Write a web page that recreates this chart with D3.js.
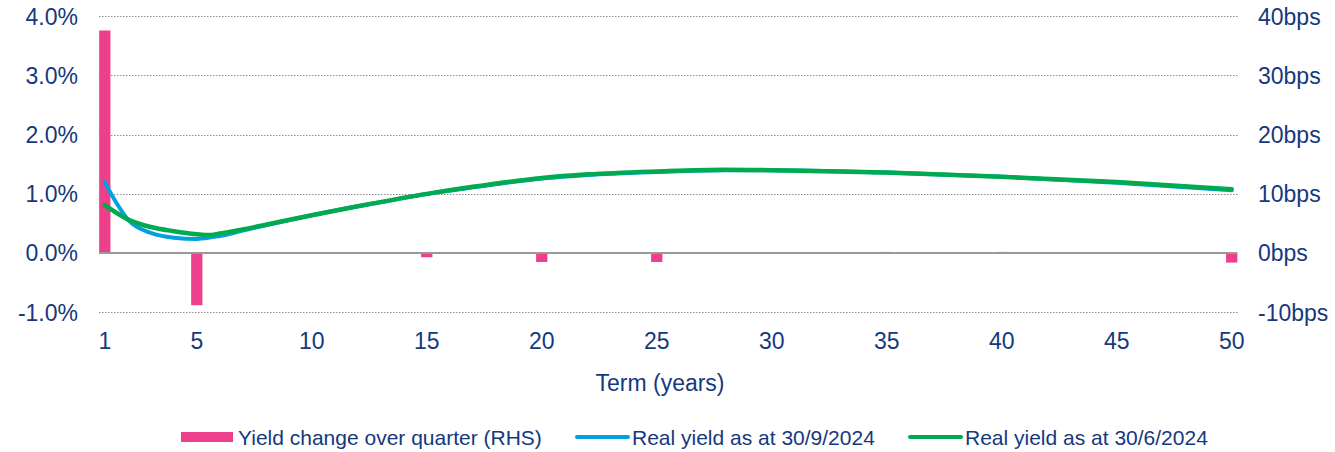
<!doctype html>
<html lang="en">
    <head>
        <meta charset="UTF-8">
        <title>Real yield curve</title>
        <style>
            body { margin: 0; background: #fff; }
            text { font-family: "Liberation Sans", Arial, sans-serif; fill: #15387e; }
        </style>
    </head>
    <body>
        <script src="https://d3js.org/d3.v7.min.js"></script>
        <script>
            // bars: yield change over quarter, in bps (RHS)
            var barTerms = [1, 5, 10, 15, 20, 25, 30, 35, 40, 45, 50];
            var barChange = [37.6, -8.8, 0, -0.7, -1.5, -1.5, 0, 0.2, 0.2, -0.1, -1.6];

            // real yield curves, in %
            var sepTerms = [1, 1.5, 2, 3, 4, 5, 6, 7, 8, 10, 12, 15, 17, 20, 22, 25, 28, 30, 35, 40, 45, 50];
            var sepYield = [1.20, 0.85, 0.57, 0.34, 0.26, 0.24, 0.29, 0.38, 0.47, 0.64, 0.79, 1.00, 1.11, 1.26, 1.32, 1.37, 1.40, 1.40, 1.36, 1.29, 1.19, 1.06];
            var junTerms = [1, 2, 3, 4, 5, 5.5, 6, 7, 8, 10, 12, 15, 17, 20, 22, 25, 28, 30, 35, 40, 45, 50];
            var junYield = [0.81, 0.57, 0.44, 0.37, 0.32, 0.305, 0.33, 0.40, 0.48, 0.64, 0.79, 1.00, 1.12, 1.27, 1.33, 1.38, 1.41, 1.40, 1.36, 1.29, 1.20, 1.08];

            var xTicks = [1, 5, 10, 15, 20, 25, 30, 35, 40, 45, 50];
            var leftTicks = [-1, 0, 1, 2, 3, 4];
            var rightTicks = [-10, 0, 10, 20, 30, 40];

            var legendItems = [
                { label: "Yield change over quarter (RHS)", color: "#ee3f8c", type: "bar" },
                { label: "Real yield as at 30/9/2024", color: "#00a1e2", type: "line" },
                { label: "Real yield as at 30/6/2024", color: "#00aa4f", type: "line" }
            ];

            var width = 1335, height = 452;

            var x = d3.scaleLinear().domain([1, 50]).range([104.8, 1231.7]);
            var yL = d3.scaleLinear().domain([-1, 4]).range([312.3, 16.3]);
            var yR = d3.scaleLinear().domain([-10, 40]).range([312.3, 16.3]);

            var gridLeft = x(1) - 5.8, gridRight = x(50) + 5.8;
            var barW = 11.3;

            var svg = d3.select("body").append("svg")
                .attr("width", width)
                .attr("height", height);

            // gridlines
            svg.append("g").selectAll("line")
                .data(leftTicks.filter(function(d) { return d !== 0; }))
                .enter()
                .append("line")
                    .attr("x1", gridLeft)
                    .attr("x2", gridRight)
                    .attr("y1", function(d) { return Math.round(yL(d)) + 0.5; })
                    .attr("y2", function(d) { return Math.round(yL(d)) + 0.5; })
                    .attr("stroke", "#8c8c8c")
                    .attr("stroke-width", 1)
                    .attr("stroke-dasharray", "1.5,1.5");

            // bars
            svg.append("g").selectAll("rect")
                .data(barTerms.map(function(t, i) { return { t: t, v: barChange[i] }; }))
                .enter()
                .append("rect")
                    .attr("x", function(d) { return x(d.t) - barW / 2; })
                    .attr("width", barW)
                    .attr("y", function(d) { return Math.min(yR(d.v), yR(0)); })
                    .attr("height", function(d) { return Math.abs(yR(d.v) - yR(0)); })
                    .attr("fill", "#ee3f8c");

            // zero line
            svg.append("line")
                .attr("x1", gridLeft)
                .attr("x2", gridRight)
                .attr("y1", yL(0))
                .attr("y2", yL(0))
                .attr("stroke", "#999")
                .attr("stroke-width", 2);

            var line = d3.line()
                .x(function(d) { return x(d[0]); })
                .y(function(d) { return yL(d[1]); })
                .curve(d3.curveMonotoneX);

            svg.append("path")
                .datum(sepTerms.map(function(t, i) { return [t, sepYield[i]]; }))
                .attr("d", line)
                .attr("fill", "none")
                .attr("stroke", "#00a1e2")
                .attr("stroke-width", 4)
                .attr("stroke-linecap", "round");

            svg.append("path")
                .datum(junTerms.map(function(t, i) { return [t, junYield[i]]; }))
                .attr("d", line)
                .attr("fill", "none")
                .attr("stroke", "#00aa4f")
                .attr("stroke-width", 4.5)
                .attr("stroke-linecap", "round");

            // left axis labels
            svg.append("g").selectAll("text")
                .data(leftTicks)
                .enter()
                .append("text")
                    .attr("x", 78)
                    .attr("y", function(d) { return yL(d); })
                    .attr("dy", "0.36em")
                    .attr("text-anchor", "end")
                    .style("font-size", "23px")
                    .text(function(d) { return d.toFixed(1) + "%"; });

            // right axis labels
            svg.append("g").selectAll("text")
                .data(rightTicks)
                .enter()
                .append("text")
                    .attr("x", 1258)
                    .attr("y", function(d) { return yR(d); })
                    .attr("dy", "0.36em")
                    .attr("text-anchor", "start")
                    .style("font-size", "23px")
                    .text(function(d) { return d + "bps"; });

            // x axis labels
            svg.append("g").selectAll("text")
                .data(xTicks)
                .enter()
                .append("text")
                    .attr("x", function(d) { return x(d); })
                    .attr("y", 349)
                    .attr("text-anchor", "middle")
                    .style("font-size", "23px")
                    .text(function(d) { return d; });

            svg.append("text")
                .attr("x", 660)
                .attr("y", 391)
                .attr("text-anchor", "middle")
                .style("font-size", "23px")
                .text("Term (years)");

            // legend
            var legendX = [181, 575, 908];
            var lg = svg.append("g");
            legendItems.forEach(function(item, i) {
                var lx = legendX[i];
                if (item.type === "bar") {
                    lg.append("rect")
                        .attr("x", lx).attr("y", 432)
                        .attr("width", 52).attr("height", 10)
                        .attr("fill", item.color);
                } else {
                    lg.append("line")
                        .attr("x1", lx + 2).attr("x2", lx + 53)
                        .attr("y1", 437).attr("y2", 437)
                        .attr("stroke", item.color)
                        .attr("stroke-width", 4)
                        .attr("stroke-linecap", "round");
                }
                lg.append("text")
                    .attr("x", lx + 57)
                    .attr("y", 445)
                    .style("font-size", "21px")
                    .text(item.label);
            });
        </script>
    </body>
</html>
